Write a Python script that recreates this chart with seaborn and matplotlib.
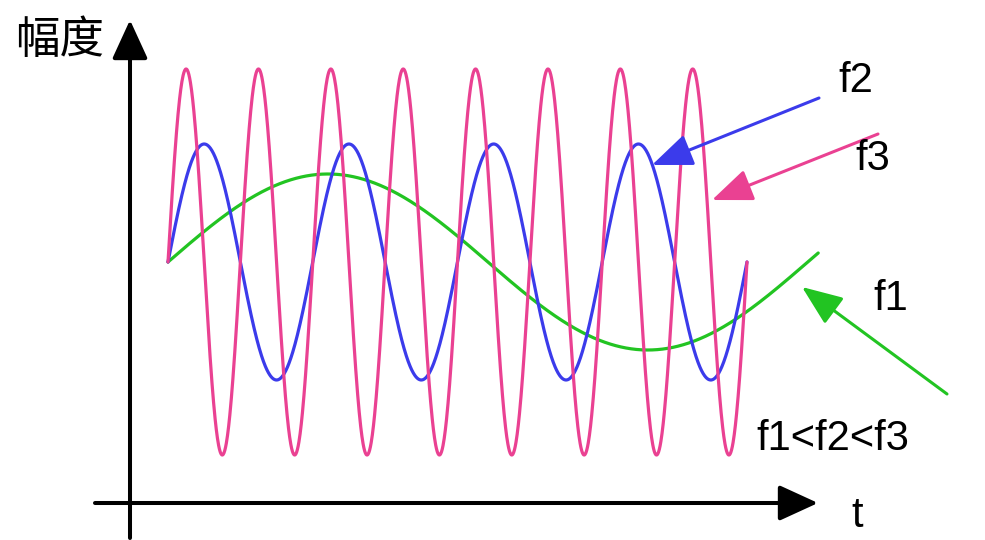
import numpy as np
import pandas as pd
import seaborn as sb
import matplotlib.pyplot as plt

# wave parameters (t: 0..1 spans the f2/f3 curves)
waves = ["f1", "f2", "f3"]
freqs = [0.905, 4.0, 8.0]
amps = [0.88, 1.18, 1.93]
t_ends = [1.123, 1.0, 1.0]
colors = ["#22C422", "#3B3BEB", "#EA4192"]

rows = []
for name, f, a, te in zip(waves, freqs, amps, t_ends):
    t = np.linspace(0, te, 1500)
    rows.append(pd.DataFrame({"t": t, "amp": a * np.sin(2 * np.pi * f * t), "wave": name}))
df = pd.concat(rows, ignore_index=True)

sb.set_style("white")
plt.rcParams["font.family"] = ["Liberation Sans", "DejaVu Sans"]

fig = plt.figure(figsize=(9.85, 5.4), dpi=100)
ax = fig.add_axes([0, 0, 1, 1])
sb.lineplot(data=df, x="t", y="amp", hue="wave", palette=dict(zip(waves, colors)),
            legend=False, linewidth=2.3, sort=False, ax=ax)
ax.set_xlim(-168 / 579, (985 - 168) / 579)
ax.set_ylim(-(540 - 262) / 100, 262 / 100)
ax.axis("off")


def px(x, y):
    # image pixel (top-left origin) -> figure pixels
    return (x, 540 - y)


def arrow(start, end, color, lw, hl, hw):
    ax.annotate("", xy=px(*end), xytext=px(*start), xycoords="figure pixels",
                textcoords="figure pixels",
                arrowprops=dict(arrowstyle=f"-|>,head_length={hl},head_width={hw}",
                                lw=lw, color=color, shrinkA=0, shrinkB=0,
                                mutation_scale=20))


# axes
arrow((95, 503), (818, 503), "black", 2.9, 1.2, 0.55)
arrow((130, 538), (130, 20), "black", 2.9, 1.2, 0.55)

# pointers
arrow((819, 98), (652, 165), colors[1], 2.2, 1.25, 0.5)
arrow((878, 134), (712, 200), colors[2], 2.2, 1.25, 0.5)
arrow((947, 394), (802, 287), colors[0], 2.2, 1.25, 0.5)

fs = 30
kw = dict(fontsize=fs, transform=None, va="baseline", color="black")
ax.text(*px(838, 92), "f2", **kw)
ax.text(*px(855, 170), "f3", **kw)
ax.text(*px(873, 310), "f1", **kw)
ax.text(*px(756, 450), "f1<f2<f3", **kw)
ax.text(*px(851, 527), "t", **kw)
ax.text(*px(15, 40), "幅度", fontsize=32, transform=None, va="center", color="black",
        family=["Noto Sans CJK SC", "DejaVu Sans"])

plt.savefig("out.png", dpi=100)
